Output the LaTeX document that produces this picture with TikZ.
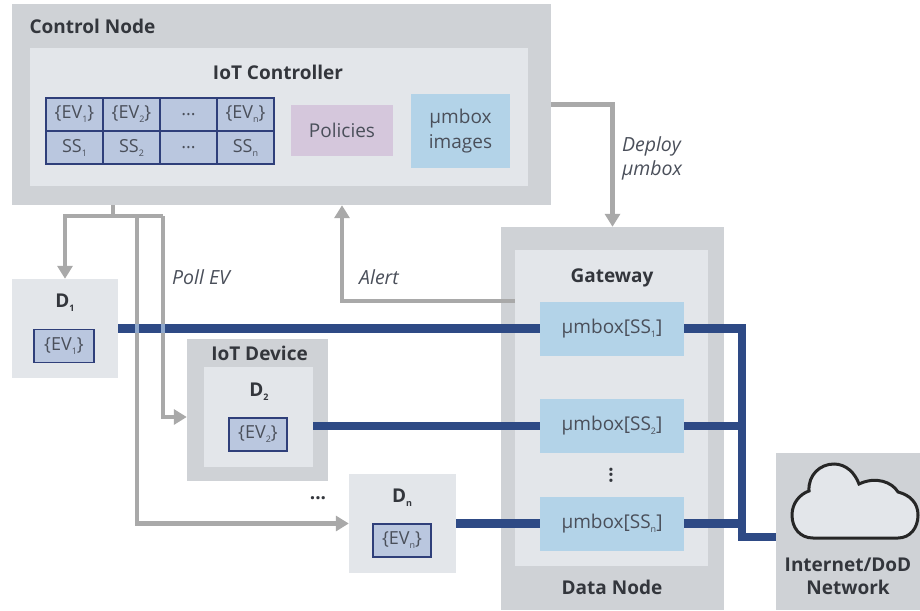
\documentclass[tikz,border=0pt]{standalone}
\usepackage{fontspec}
\setmainfont{Open Sans}
\usepackage{tikz}
\usetikzlibrary{arrows.meta}
\usetikzlibrary{positioning}

\definecolor{outergray}{HTML}{CFD2D6}
\definecolor{innergray}{HTML}{E3E6EA}
\definecolor{tablefill}{HTML}{BAC7DF}
\definecolor{tableline}{HTML}{2F3F7A}
\definecolor{policyfill}{HTML}{D5C7DC}
\definecolor{umboxfill}{HTML}{B3D3E8}
\definecolor{linkblue}{HTML}{2E4A85}
\definecolor{crossblue}{HTML}{8FA8CC}
\definecolor{pollgray}{HTML}{A9A9A9}
\definecolor{textdark}{HTML}{33363C}
\definecolor{textsoft}{HTML}{4A4F5A}

\newcommand{\sub}[1]{\raisebox{-4pt}{\fontsize{9}{9}\selectfont #1}}

\tikzset{
  outerbox/.style={fill=outergray, inner sep=0pt},
  innerbox/.style={fill=innergray, inner sep=0pt},
  title/.style={font=\fontsize{19}{23}\selectfont\bfseries, text=textdark, inner sep=0pt},
  plain/.style={font=\fontsize{19}{25}\selectfont, text=textsoft, inner sep=0pt},
  note/.style={font=\fontsize{19.5}{24}\selectfont\itshape, text=textsoft, inner sep=0pt},
  cell/.style={draw=tableline, line width=1.2pt, fill=tablefill, minimum width=57pt, minimum height=33pt,
    inner sep=0pt, font=\fontsize{18}{20}\selectfont, text=textsoft},
  evbox/.style={cell, minimum width=58pt, minimum height=33pt},
  umbox/.style={fill=umboxfill, minimum width=144pt, minimum height=54pt, inner sep=0pt,
    font=\fontsize{19}{22}\selectfont, text=textsoft},
  link/.style={draw=linkblue, line width=8.5pt, line join=miter},
  poll/.style={draw=pollgray, line width=4.2pt, line join=miter},
  pollarrow/.style={poll, -{Triangle[width=15pt,length=13pt]}, shorten >=0pt}
}

\begin{document}
\begin{tikzpicture}[x=1pt, y=-1pt]
    \useasboundingbox (0, 0) rectangle (920, 610);

    % control node
    \node(control) [outerbox, minimum width=539pt, minimum height=201pt] at (281.5, 104.5) {};
    \node(controltitle) [title] at (92.5, 26) {Control Node};
    \node(controller) [innerbox, minimum width=498pt, minimum height=138pt] at (279, 117) {};
    \node(controllertitle) [title] at (278, 72) {IoT Controller};

    \node(ev1) [cell] at (74.5, 114.5) {\{EV\sub{1}\}};
    \node(ev2) [cell] at (131.5, 114.5) {\{EV\sub{2}\}};
    \node(evdots) [cell] at (188.5, 114.5) {...};
    \node(evn) [cell] at (245.5, 114.5) {\{EV\sub{n}\}};
    \node(ss1) [cell] at (74.5, 147.5) {SS\sub{1}};
    \node(ss2) [cell] at (131.5, 147.5) {SS\sub{2}};
    \node(ssdots) [cell] at (188.5, 147.5) {...};
    \node(ssn) [cell] at (245.5, 147.5) {SS\sub{n}};

    \node(policies) [plain, fill=policyfill, minimum width=102pt, minimum height=51pt] at (342, 130.5) {Policies};
    \node(images) [plain, fill=umboxfill, minimum width=99pt, minimum height=74pt] at (460.5, 131) {
      \begin{tabular}{@{}c@{}}
        µmbox \\
        images
      \end{tabular}
    };

    % data node
    \node(datanode) [outerbox, minimum width=223pt, minimum height=383pt] at (612.5, 418.5) {};
    \node(gateway) [innerbox, minimum width=193pt, minimum height=316pt] at (611.5, 408) {};
    \node(gatewaytitle) [title] at (612, 278) {Gateway};
    \node(datatitle) [title] at (612, 587) {Data Node};
    \node(umbox1) [umbox] at (612, 328.5) {µmbox[SS\sub{1}]};
    \node(umbox2) [umbox] at (612, 426) {µmbox[SS\sub{2}]};
    \node(umbox3) [umbox] at (612, 523.5) {µmbox[SS\sub{n}]};
    \node(umdots) [title, rotate=90] at (611, 475) {...};

    % devices
    \node(d1) [innerbox, minimum width=106pt, minimum height=99pt] at (65, 328.5) {};
    \node(d1title) [title] at (65, 303) {D\sub{1}};
    \node(d1ev) [evbox, minimum width=60pt] at (64, 346) {\{EV\sub{1}\}};

    \node(iot) [outerbox, minimum width=141pt, minimum height=142pt] at (257.5, 410) {};
    \node(iottitle) [title] at (259.5, 353) {IoT Device};
    \node(d2) [innerbox, minimum width=109pt, minimum height=100pt] at (258.5, 417) {};
    \node(d2title) [title] at (259, 392) {D\sub{2}};
    \node(d2ev) [evbox] at (258, 434.5) {\{EV\sub{2}\}};

    \node(moredots) [title] at (318, 498) {...};

    \node(dn) [innerbox, minimum width=107pt, minimum height=99pt] at (402.5, 523.5) {};
    \node(dntitle) [title] at (402, 498) {D\sub{n}};
    \node(dnev) [evbox] at (402, 540.5) {\{EV\sub{n}\}};

    % network
    \node(network) [outerbox, minimum width=144pt, minimum height=157pt] at (848, 531.5) {};
    \node(networktitle) [title, align=center] at (848, 576) {Internet/DoD \\ Network};
    \draw[fill=innergray, draw=black!85, line width=3pt]
      (813, 538) .. controls (800, 538) and (792, 528) .. (792, 515)
      .. controls (792, 503) and (800, 494) .. (809, 491)
      .. controls (808, 475) and (820, 464) .. (834, 464)
      .. controls (846, 464) and (855, 473) .. (859, 484)
      .. controls (876, 476) and (892, 482) .. (898, 492)
      .. controls (910, 495) and (918, 503) .. (918, 515)
      .. controls (918, 528) and (910, 538) .. (898, 538) -- cycle;

    \coordinate(pollhub) at (113, 216);
    \coordinate(pollmid) at (137, 216);
    \coordinate(pollright) at (163, 216);
    \coordinate(alertbend) at (342, 301);
    \coordinate(busjoin) at (742, 537);

    % polling
    \draw[poll] (control.south -| pollhub) -- (pollhub);
    \draw[pollarrow] (pollright) -| (d1.north);
    \draw[pollarrow] (pollmid) |- (dn.west);
    \draw[pollarrow] (pollright) |- (iot.west |- d2.west);
    \node(polllabel) [note] at (201, 277) {Poll EV};

    % alert and deploy
    \draw[pollarrow] (gateway.west |- alertbend) -- (alertbend) -- (control.south -| alertbend);
    \node(alertlabel) [note] at (379, 277) {Alert};
    \draw[pollarrow] (control.east) -| (datanode.north);
    \node(deploylabel) [note] at (652, 159) {
      \begin{tabular}{@{}l@{}}
        Deploy \\
        µmbox
      \end{tabular}
    };

    % data links
    \draw[link] (d1.east |- umbox1.west) -- (umbox1.west);
    \draw[link] (d2.east |- umbox2.west) -- (umbox2.west);
    \draw[link] (dn.east) -- (umbox3.west);
    \draw[link] (umbox1.east) -| (busjoin) -- (network.west |- busjoin);
    \draw[link] (umbox2.east) -- (umbox2.east -| busjoin);
    \draw[link] (umbox3.east) -- (umbox3.east -| busjoin);

    % poll lines showing through the link
    \draw[crossblue, line width=4.2pt] (137, 324.25) -- (137, 332.75);
    \draw[crossblue, line width=4.2pt] (163, 324.25) -- (163, 332.75);
\end{tikzpicture}
\end{document}
